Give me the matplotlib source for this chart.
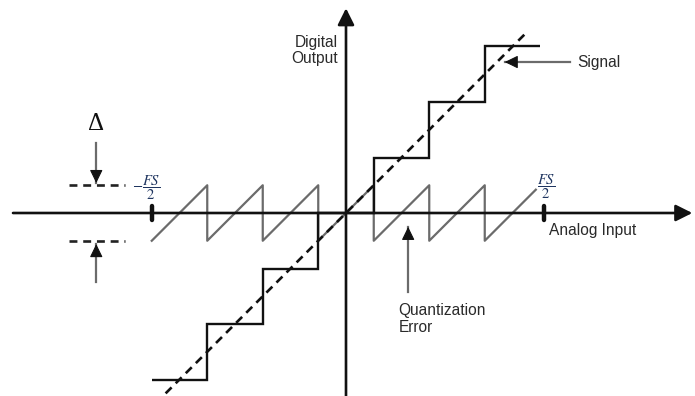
import matplotlib.pyplot as plt

# quantizer staircase (in LSB units)
step_edges = [-3.5, -2.5, -1.5, -0.5, 0.5, 1.5, 2.5, 3.5]
step_levels = [-3, -2, -1, 0, 1, 2, 3]

# ideal analog signal (dashed line)
signal_x = [-3.25, 3.25]
signal_y = [-3.25, 3.25]

# quantization error sawtooth
error_x = [-3.5, -2.5, -2.5, -1.5, -1.5, -0.5, -0.5, 0.5, 0.5, 1.5, 1.5, 2.5, 2.5, 3.42]
error_y = [-0.5, 0.5, -0.5, 0.5, -0.5, 0.5, -0.5, 0.5, -0.5, 0.5, -0.5, 0.5, -0.5, 0.42]

# full scale markers
fs_ticks = [-3.5, 3.57]
delta_levels = [0.5, -0.5]

plt.rcParams['font.family'] = ['Liberation Sans', 'DejaVu Sans']
plt.rcParams['mathtext.fontset'] = 'stix'

px = 55.5  # pixels per LSB
fig = plt.figure(figsize=(6.95, 3.96), dpi=100)
ax = fig.add_axes([0, 0, 1, 1])
ax.set_xlim(-346 / px, 349 / px)
ax.set_ylim(-183 / px, 213 / px)
ax.axis('off')

# axes with arrow heads
ax.annotate('', xy=(6.24, 0), xytext=(-6.0, 0),
            arrowprops=dict(arrowstyle='-|>,head_length=0.4,head_width=0.2',
                            lw=1.9, color='#111111', mutation_scale=25,
                            shrinkA=0, shrinkB=0))
ax.annotate('', xy=(0, 3.69), xytext=(0, -3.35),
            arrowprops=dict(arrowstyle='-|>,head_length=0.4,head_width=0.2',
                            lw=1.9, color='#111111', mutation_scale=25,
                            shrinkA=0, shrinkB=0))

# error sawtooth
ax.plot(error_x, error_y, color='#6b6b6b', lw=1.6, zorder=2)

# staircase
ax.stairs(step_levels, step_edges, baseline=None, color='#111111', lw=1.7, zorder=3)

# signal
ax.plot(signal_x, signal_y, color='#111111', lw=1.9, linestyle=(0, (3.2, 2.2)), zorder=4)

# FS/2 tick marks
for x in fs_ticks:
    ax.plot([x, x], [-0.12, 0.12], color='#111111', lw=3.2, solid_capstyle='round', zorder=5)

ax.text(-3.6, 0.46, r'$-\dfrac{FS}{2}$', fontsize=10.5, color='#1f3560',
        ha='center', va='center')
ax.text(3.6, 0.48, r'$\dfrac{FS}{2}$', fontsize=10.5, color='#1f3560',
        ha='center', va='center')

# delta markers
for y in delta_levels:
    ax.plot([-5.0, -3.98], [y, y], color='#222222', lw=1.9, linestyle=(0, (3, 2.2)))

ax.text(-4.5, 1.6, '\u0394', fontsize=18, family='Liberation Serif',
        ha='center', va='center', color='#111111')


def arrow(tail, tip, hl=0.17):
    ax.plot([tail[0], tip[0]], [tail[1], tip[1]], color='#6b6b6b', lw=1.6)
    dx = tip[0] - tail[0]
    dy = tip[1] - tail[1]
    n = (dx ** 2 + dy ** 2) ** 0.5
    back = (tip[0] - dx / n * hl, tip[1] - dy / n * hl)
    ax.annotate('', xy=tip, xytext=back,
                arrowprops=dict(arrowstyle='-|>,head_length=0.45,head_width=0.22',
                                lw=0.8, color='#111111', mutation_scale=18,
                                shrinkA=0, shrinkB=0))


arrow((-4.5, 1.26), (-4.5, 0.54))
arrow((-4.5, -1.24), (-4.5, -0.56))
arrow((4.04, 2.72), (2.86, 2.72))
arrow((1.12, -1.42), (1.12, -0.25))

# labels
txt = dict(fontsize=11.2, color='#2a2a2a')
ax.text(-0.14, 2.93, 'Digital\nOutput', ha='right', va='center', linespacing=1.1, **txt)
ax.text(4.16, 2.72, 'Signal', ha='left', va='center', **txt)
ax.text(3.66, -0.31, 'Analog Input', ha='left', va='center', **txt)
ax.text(0.95, -1.91, 'Quantization\nError', ha='left', va='center', linespacing=1.1, **txt)

fig.savefig('out.png', dpi=100)
